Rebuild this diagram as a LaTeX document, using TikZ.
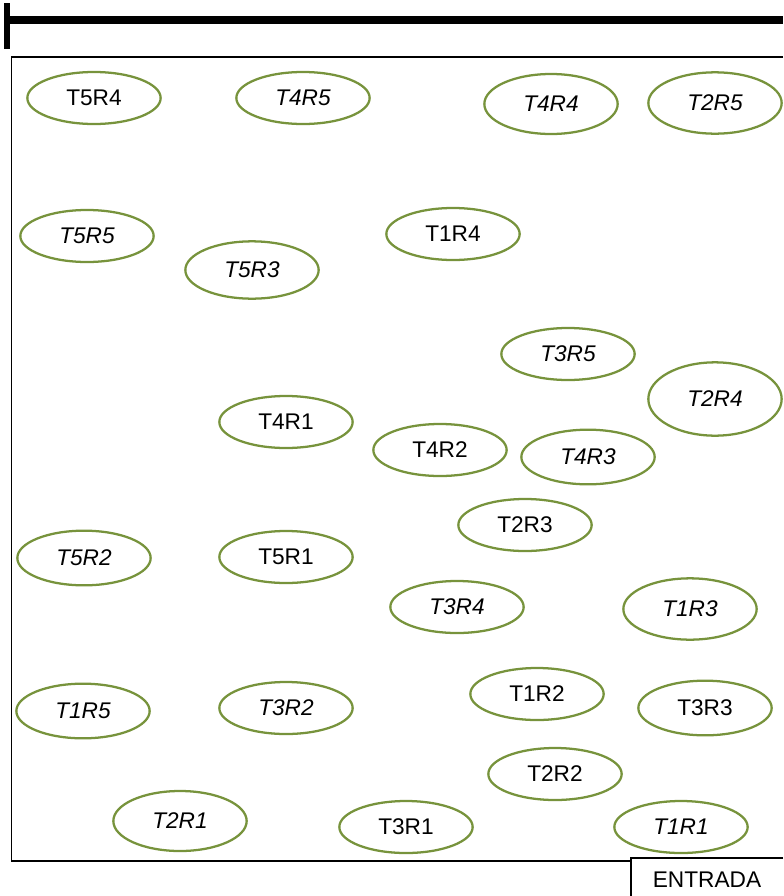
\documentclass[tikz,border=0pt]{standalone}
\usepackage{fontspec}
\setmainfont{Liberation Sans}
\usetikzlibrary{shapes.geometric}
\definecolor{Plot}{HTML}{77933C}

\begin{document}
\begin{tikzpicture}[
    x=0.75pt,y=-0.75pt,
    plot/.style={ellipse,draw=Plot,line width=1.7pt,minimum width=100pt,minimum height=39pt,inner sep=0pt,font=\fontsize{17}{20}\selectfont},
    plotit/.style={plot,font=\fontsize{17}{20}\selectfont\itshape},
    wall/.style={line width=0.8pt}
  ]
    \useasboundingbox (0,0) rectangle (783,896);
    % scale bar
    \draw[line width=6pt] (4,20) -- (783,20);
    \draw[line width=4.5pt] (6.5,3) -- (6.5,49);
    % field border and entrance
    \draw[wall] (783,57) -- (11.5,57) -- (11.5,861) -- (631,861);
    \draw[wall] (783,858) -- (631,858) -- (631,896);
    \node[font=\fontsize{17}{20}\selectfont] (entrada) at (707,880) {ENTRADA};
    % plots
    \node[plot] (t5r4) at (94,98) {T5R4};
    \node[plotit] (t4r5) at (303,98) {T4R5};
    \node[plotit,minimum height=45pt] (t4r4) at (551,104) {T4R4};
    \node[plotit,minimum height=46pt] (t2r5) at (715,103) {T2R5};
    \node[plotit] (t5r5) at (87,236) {T5R5};
    \node[plot] (t1r4) at (453,234) {T1R4};
    \node[plotit,minimum height=43pt] (t5r3) at (252,270) {T5R3};
    \node[plotit] (t3r5) at (568,354) {T3R5};
    \node[plotit,minimum height=55pt] (t2r4) at (715,399) {T2R4};
    \node[plot] (t4r1) at (286,422) {T4R1};
    \node[plot] (t4r2) at (440,450) {T4R2};
    \node[plotit,minimum height=41pt] (t4r3) at (588,457) {T4R3};
    \node[plot] (t2r3) at (525,525) {T2R3};
    \node[plotit,minimum height=41pt] (t5r2) at (84,558) {T5R2};
    \node[plot] (t5r1) at (286,557) {T5R1};
    \node[plotit] (t3r4) at (457,607) {T3R4};
    \node[plotit,minimum height=46pt] (t1r3) at (690,609) {T1R3};
    \node[plotit,minimum height=41pt] (t1r5) at (83,711) {T1R5};
    \node[plotit] (t3r2) at (286,708) {T3R2};
    \node[plot] (t1r2) at (537,694) {T1R2};
    \node[plot,minimum height=41pt] (t3r3) at (705,708) {T3R3};
    \node[plot] (t2r2) at (555,774) {T2R2};
    \node[plotit,minimum height=45pt] (t2r1) at (180,821) {T2R1};
    \node[plot] (t3r1) at (406,827) {T3R1};
    \node[plotit] (t1r1) at (681,827) {T1R1};
\end{tikzpicture}
\end{document}
